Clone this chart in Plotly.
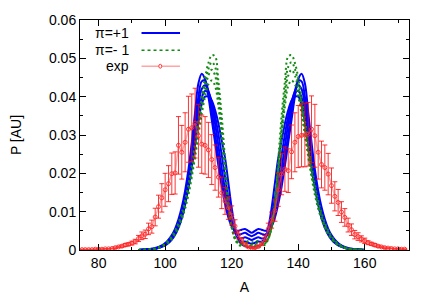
import plotly.graph_objects as go

# ---------------- data ----------------
A_th = [92, 94] + list(range(96, 157)) + [158, 160]

blue_curves = [
    [0.00003, 0.0001,
     0.0003,0.0005,0.0008,0.0012,0.0018,0.0027,0.0039,0.0056,0.0080,0.0112,0.0155,0.0210,0.0280,0.0360,0.0435,0.0460,0.0445,0.0400,0.0340,0.0280,0.0220,0.0165,0.0120,0.0085,0.0062,0.0052,0.0050,0.0053,0.0055,0.0050,0.0045,
     0.0050,0.0055,0.0053,0.0050,0.0052,0.0062,0.0085,0.0120,0.0165,0.0220,0.0280,0.0340,0.0400,0.0445,0.0460,0.0435,0.0360,0.0280,0.0210,0.0155,0.0112,0.0080,0.0056,0.0039,0.0027,0.0018,0.0012,0.0008,0.0005,0.0003,
     0.0001, 0.00003],
    [0.00003, 0.0001,
     0.0003,0.0004,0.0007,0.0011,0.0016,0.0024,0.0035,0.0050,0.0072,0.0102,0.0142,0.0194,0.0258,0.0332,0.0400,0.0440,0.0442,0.0412,0.0362,0.0302,0.0242,0.0184,0.0135,0.0095,0.0065,0.0048,0.0040,0.0042,0.0045,0.0040,0.0036,
     0.0040,0.0045,0.0042,0.0040,0.0048,0.0065,0.0095,0.0135,0.0184,0.0242,0.0302,0.0362,0.0412,0.0442,0.0440,0.0400,0.0332,0.0258,0.0194,0.0142,0.0102,0.0072,0.0050,0.0035,0.0024,0.0016,0.0011,0.0007,0.0004,0.0003,
     0.0001, 0.00003],
    [0.00003, 0.0001,
     0.0002,0.0004,0.0006,0.0010,0.0015,0.0022,0.0032,0.0046,0.0066,0.0094,0.0132,0.0180,0.0240,0.0310,0.0377,0.0420,0.0430,0.0415,0.0380,0.0330,0.0272,0.0212,0.0157,0.0110,0.0073,0.0045,0.0032,0.0030,0.0033,0.0030,0.0026,
     0.0030,0.0033,0.0030,0.0032,0.0045,0.0073,0.0110,0.0157,0.0212,0.0272,0.0330,0.0380,0.0415,0.0430,0.0420,0.0377,0.0310,0.0240,0.0180,0.0132,0.0094,0.0066,0.0046,0.0032,0.0022,0.0015,0.0010,0.0006,0.0004,0.0002,
     0.0001, 0.00003],
    [0.00003, 0.0001,
     0.0002,0.0003,0.0006,0.0009,0.0013,0.0020,0.0029,0.0043,0.0062,0.0088,0.0124,0.0170,0.0227,0.0292,0.0355,0.0398,0.0415,0.0410,0.0388,0.0350,0.0302,0.0248,0.0190,0.0135,0.0088,0.0052,0.0030,0.0022,0.0022,0.0019,0.0016,
     0.0019,0.0022,0.0022,0.0030,0.0052,0.0088,0.0135,0.0190,0.0248,0.0302,0.0350,0.0388,0.0410,0.0415,0.0398,0.0355,0.0292,0.0227,0.0170,0.0124,0.0088,0.0062,0.0043,0.0029,0.0020,0.0013,0.0009,0.0006,0.0003,0.0002,
     0.0001, 0.00003],
    [0.00003, 0.0001,
     0.0002,0.0003,0.0005,0.0008,0.0012,0.0018,0.0027,0.0040,0.0058,0.0083,0.0118,0.0162,0.0215,0.0275,0.0335,0.0380,0.0400,0.0400,0.0390,0.0365,0.0330,0.0285,0.0240,0.0175,0.0110,0.0058,0.0028,0.0015,0.0010,0.0008,0.0007,
     0.0008,0.0010,0.0015,0.0028,0.0058,0.0110,0.0175,0.0240,0.0285,0.0330,0.0365,0.0390,0.0400,0.0400,0.0380,0.0335,0.0275,0.0215,0.0162,0.0118,0.0083,0.0058,0.0040,0.0027,0.0018,0.0012,0.0008,0.0005,0.0003,0.0002,
     0.0001, 0.00003],
]

green_curves = [
    [0.00003, 0.0001,
     0.0002,0.0004,0.0007,0.0011,0.0017,0.0025,0.0036,0.0051,0.0071,0.0097,0.0130,0.0172,0.0222,0.0280,0.0340,0.0398,0.0450,0.0488,0.0508,0.0505,0.0440,0.0350,0.0235,0.0125,0.0060,0.0030,0.0018,0.0016,0.0018,0.0016,0.0014,
     0.0016,0.0018,0.0016,0.0018,0.0030,0.0060,0.0125,0.0235,0.0350,0.0440,0.0505,0.0508,0.0488,0.0450,0.0398,0.0340,0.0280,0.0222,0.0172,0.0130,0.0097,0.0071,0.0051,0.0036,0.0025,0.0017,0.0011,0.0007,0.0004,0.0002,
     0.0001, 0.00003],
    [0.00003, 0.0001,
     0.0002,0.0003,0.0006,0.0010,0.0015,0.0023,0.0033,0.0047,0.0066,0.0090,0.0121,0.0161,0.0210,0.0267,0.0327,0.0385,0.0435,0.0472,0.0490,0.0478,0.0415,0.0320,0.0215,0.0122,0.0062,0.0033,0.0022,0.0021,0.0024,0.0022,0.0020,
     0.0022,0.0024,0.0021,0.0022,0.0033,0.0062,0.0122,0.0215,0.0320,0.0415,0.0478,0.0490,0.0472,0.0435,0.0385,0.0327,0.0267,0.0210,0.0161,0.0121,0.0090,0.0066,0.0047,0.0033,0.0023,0.0015,0.0010,0.0006,0.0003,0.0002,
     0.0001, 0.00003],
    [0.00003, 0.0001,
     0.0002,0.0003,0.0006,0.0009,0.0014,0.0021,0.0031,0.0044,0.0062,0.0085,0.0115,0.0153,0.0200,0.0256,0.0316,0.0372,0.0420,0.0455,0.0470,0.0455,0.0395,0.0305,0.0205,0.0118,0.0060,0.0030,0.0017,0.0014,0.0015,0.0013,0.0012,
     0.0013,0.0015,0.0014,0.0017,0.0030,0.0060,0.0118,0.0205,0.0305,0.0395,0.0455,0.0470,0.0455,0.0420,0.0372,0.0316,0.0256,0.0200,0.0153,0.0115,0.0085,0.0062,0.0044,0.0031,0.0021,0.0014,0.0009,0.0006,0.0003,0.0002,
     0.0001, 0.00003],
    [0.00003, 0.0001,
     0.0002,0.0003,0.0005,0.0008,0.0013,0.0019,0.0028,0.0041,0.0058,0.0080,0.0108,0.0144,0.0190,0.0243,0.0300,0.0355,0.0400,0.0432,0.0442,0.0428,0.0375,0.0292,0.0198,0.0115,0.0058,0.0028,0.0014,0.0010,0.0010,0.0009,0.0008,
     0.0009,0.0010,0.0010,0.0014,0.0028,0.0058,0.0115,0.0198,0.0292,0.0375,0.0428,0.0442,0.0432,0.0400,0.0355,0.0300,0.0243,0.0190,0.0144,0.0108,0.0080,0.0058,0.0041,0.0028,0.0019,0.0013,0.0009,0.0005,0.0003,0.0002,
     0.0001, 0.00003],
]

A_exp = list(range(75, 173))
exp_y = [
    0.0001,0.0001,0.0001,0.0001,0.0002,0.0002,0.0002,0.0003,0.0003,0.0004,
    0.0006,0.0008,0.0010,0.0013,0.0015,0.0018,0.0022,0.0030,0.0037,0.0041,
    0.0055,0.0061,0.0086,0.0113,0.0136,0.0157,0.0173,0.0199,0.0201,0.0273,
    0.0255,0.0281,0.0315,0.0319,0.0331,0.0298,0.0276,0.0273,0.0261,0.0236,
    0.0215,0.0190,0.0149,0.0128,0.0110,0.0090,0.0062,0.0040,0.0025,0.0015,
    0.0008,0.0005,0.0006,0.0009,0.0016,0.0030,0.0055,0.0078,0.0103,0.0157,
    0.0198,0.0211,0.0207,0.0256,0.0281,0.0296,0.0299,0.0300,0.0302,0.0315,
    0.0298,0.0255,0.0223,0.0215,0.0198,0.0168,0.0140,0.0124,0.0099,0.0085,
    0.0065,0.0053,0.0040,0.0035,0.0029,0.0024,0.0019,0.0016,0.0013,0.0010,
    0.0008,0.0006,0.0005,0.0004,0.0003,0.0003,0.0002,0.0002,
]
exp_err = [
    0.0001,0.0001,0.0001,0.0001,0.0001,0.0001,0.0001,0.0001,0.0001,0.0001,
    0.0002,0.0002,0.0003,0.0004,0.0004,0.0005,0.0006,0.0008,0.0010,0.0011,
    0.0015,0.0017,0.0023,0.0030,0.0037,0.0043,0.0047,0.0054,0.0055,0.0075,
    0.0070,0.0077,0.0086,0.0088,0.0091,0.0082,0.0076,0.0075,0.0072,0.0065,
    0.0059,0.0052,0.0041,0.0035,0.0030,0.0025,0.0017,0.0011,0.0007,0.0004,
    0.0002,0.0001,0.0002,0.0002,0.0004,0.0008,0.0015,0.0021,0.0028,0.0043,
    0.0054,0.0058,0.0057,0.0070,0.0077,0.0081,0.0082,0.0083,0.0083,0.0087,
    0.0082,0.0070,0.0061,0.0059,0.0054,0.0046,0.0038,0.0034,0.0027,0.0023,
    0.0018,0.0015,0.0011,0.0010,0.0008,0.0007,0.0005,0.0004,0.0004,0.0003,
    0.0002,0.0002,0.0001,0.0001,0.0001,0.0001,0.0001,0.0001,
]

x_ticks = [80, 100, 120, 140, 160]
y_ticks = [0, 0.01, 0.02, 0.03, 0.04, 0.05, 0.06]
y_tick_labels = ["0", "0.01", "0.02", "0.03", "0.04", "0.05", "0.06"]
legend_labels = ["π=+1", "π=- 1", "exp"]

BLUE = "rgb(0,0,255)"
GREEN = "rgb(20,140,20)"
PINK = "rgba(255,90,90,0.55)"
FONT = "Liberation Sans, Arial, sans-serif"

fig = go.Figure()
for ys in blue_curves:
    fig.add_trace(go.Scatter(x=A_th, y=ys, mode="lines", line=dict(color=BLUE, width=2, shape="spline"),
                             showlegend=False, hoverinfo="skip"))
for ys in green_curves:
    fig.add_trace(go.Scatter(x=A_th, y=ys, mode="lines",
                             line=dict(color=GREEN, width=2, dash="2px,3px", shape="spline"),
                             showlegend=False, hoverinfo="skip"))
fig.add_trace(go.Scatter(
    x=A_exp, y=exp_y, mode="lines+markers",
    line=dict(color=PINK, width=1.5),
    marker=dict(symbol="circle-open", size=4, color="rgba(255,40,40,0.9)", line=dict(width=1)),
    error_y=dict(type="data", array=exp_err, visible=True, color="rgba(255,0,0,0.8)", thickness=1, width=2.5),
    showlegend=False, hoverinfo="skip"))

# gnuplot-style key (text right-aligned, sample to the right)
rows_y = [0.943, 0.869, 0.799]
for lab, yy in zip(legend_labels, rows_y):
    fig.add_annotation(x=0.155, y=yy, xref="paper", yref="paper", text=lab, showarrow=False,
                       xanchor="right", yanchor="middle", font=dict(family=FONT, size=14, color="black"))
fig.add_shape(type="line", xref="paper", yref="paper", x0=0.187, x1=0.304, y0=rows_y[0], y1=rows_y[0],
              line=dict(color=BLUE, width=2))
fig.add_shape(type="line", xref="paper", yref="paper", x0=0.187, x1=0.304, y0=rows_y[1], y1=rows_y[1],
              line=dict(color=GREEN, width=1.5, dash="3px,3px"))
fig.add_shape(type="line", xref="paper", yref="paper", x0=0.187, x1=0.304, y0=rows_y[2], y1=rows_y[2],
              line=dict(color=PINK, width=1.5))
fig.add_shape(type="circle", xref="paper", yref="paper", x0=0.2395, x1=0.2485,
              y0=rows_y[2] - 0.0085, y1=rows_y[2] + 0.0085,
              line=dict(color="rgba(255,40,40,0.9)", width=1), fillcolor="white")

axis_common = dict(showline=True, linecolor="black", linewidth=1, mirror="ticks", ticks="inside",
                   tickcolor="black", showgrid=False, zeroline=False,
                   tickfont=dict(family=FONT, size=14, color="black"))
fig.update_xaxes(range=[74.4, 173.3], tickvals=x_ticks, ticklen=6,
                 minor=dict(ticks="inside", dtick=10, tick0=0, ticklen=3, tickcolor="black"),
                 title=dict(text="A", font=dict(family=FONT, size=14, color="black"), standoff=12),
                 **axis_common)
fig.update_yaxes(range=[0, 0.06], tickvals=y_ticks, ticktext=y_tick_labels, ticklen=6,
                 minor=dict(ticks="inside", dtick=0.005, tick0=0, ticklen=3, tickcolor="black"),
                 title=dict(text="P [AU]", font=dict(family=FONT, size=14, color="black"), standoff=24),
                 **axis_common)
fig.update_layout(width=436, height=305, margin=dict(l=80, r=27, t=17, b=47),
                  plot_bgcolor="white", paper_bgcolor="white", showlegend=False,
                  hovermode=False,
                  font=dict(family=FONT, size=14, color="black"))
fig.write_html("out.html", config={"displayModeBar": False},
               post_script="document.body.style.margin='0px';document.body.style.overflow='hidden';")
